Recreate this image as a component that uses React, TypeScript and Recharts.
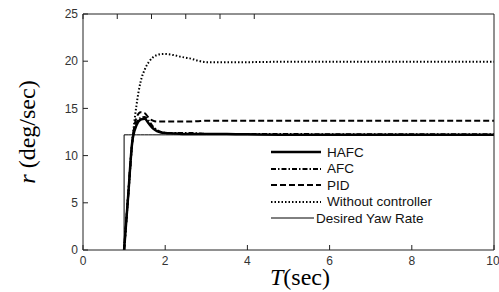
import { LineChart, Line, XAxis, YAxis, Legend, Label } from 'recharts'

// time axis (sec) and yaw rate responses (deg/sec)
const time = [0, 1.0, 1.1, 1.2, 1.3, 1.4, 1.5, 1.6, 1.7, 1.8, 1.9, 2.0, 2.2, 2.4, 2.6, 2.8, 3.0, 3.5, 4, 5, 6, 7, 8, 9, 10]
const hafc = [null, 0, 5.8, 11.5, 13.2, 13.8, 13.9, 13.4, 12.9, 12.6, 12.45, 12.4, 12.35, 12.3, 12.3, 12.3, 12.3, 12.3, 12.25, 12.2, 12.2, 12.2, 12.2, 12.2, 12.2]
const afc = [null, 0, 5.8, 11.5, 13.4, 14.0, 14.1, 13.7, 13.1, 12.7, 12.5, 12.4, 12.4, 12.4, 12.4, 12.35, 12.3, 12.3, 12.3, 12.3, 12.25, 12.25, 12.25, 12.25, 12.25]
const pid = [null, 0, 5.8, 11.5, 14.0, 14.6, 14.5, 14.0, 13.7, 13.6, 13.6, 13.6, 13.6, 13.6, 13.6, 13.65, 13.7, 13.7, 13.7, 13.7, 13.7, 13.7, 13.7, 13.7, 13.7]
const noController = [null, 0, 5.8, 11.5, 15.3, 17.8, 19.1, 19.9, 20.4, 20.65, 20.75, 20.76, 20.65, 20.45, 20.3, 20.05, 19.9, 19.9, 19.9, 19.95, 19.95, 19.95, 19.95, 19.95, 19.95]
const desired = [null, 0, 12.2, 12.2, 12.2, 12.2, 12.2, 12.2, 12.2, 12.2, 12.2, 12.2, 12.2, 12.2, 12.2, 12.2, 12.2, 12.2, 12.2, 12.2, 12.2, 12.2, 12.2, 12.2, 12.2]

const xTicks = [0, 2, 4, 6, 8, 10]
const yTicks = [0, 5, 10, 15, 20, 25]

const data = time.map((t, i) => ({
  t,
  hafc: hafc[i],
  afc: afc[i],
  pid: pid[i],
  noController: noController[i],
  desired: desired[i],
}))

const series = [
  { key: 'hafc', name: 'HAFC', width: 2.5, dash: undefined as string | undefined, len: 50, gap: 6 },
  { key: 'afc', name: 'AFC', width: 2, dash: '5 2 1.5 2', len: 50, gap: 6 },
  { key: 'pid', name: 'PID', width: 2, dash: '6 3', len: 50, gap: 6 },
  { key: 'noController', name: 'Without controller', width: 2, dash: '1.5 2', len: 50, gap: 6 },
  { key: 'desired', name: 'Desired Yaw Rate', width: 1, dash: undefined as string | undefined, len: 43, gap: 2 },
]

const tickStyle = { fontFamily: 'Liberation Sans, Arial, sans-serif', fontSize: 12, fill: '#333' }
const axisStroke = '#222'

function LegendBox() {
  return (
    <div style={{ fontFamily: 'Liberation Sans, Arial, sans-serif', fontSize: 13.5, color: '#111' }}>
      {series.map((s) => (
        <div key={s.key} style={{ display: 'flex', alignItems: 'center', height: 16.5 }}>
          <svg width={s.len} height={8} style={{ marginRight: s.gap }}>
            <line x1={0} y1={4} x2={s.len} y2={4} stroke="#000" strokeWidth={s.width} strokeDasharray={s.dash} />
          </svg>
          <span>{s.name}</span>
        </div>
      ))}
    </div>
  )
}

export default function App() {
  return (
    <div style={{ position: 'absolute', left: 0, top: 0, background: '#fff' }}>
      <LineChart width={499} height={292} data={data} margin={{ top: 13, right: 4, bottom: 0, left: 0 }}>
        <XAxis
          dataKey="t"
          type="number"
          domain={[0, 10]}
          ticks={xTicks}
          height={42}
          tickSize={-5}
          tickMargin={11}
          tick={tickStyle}
          stroke={axisStroke}
          tickLine={{ stroke: axisStroke }}
        >
          <Label
            content={() => (
              <text x={300} y={285} textAnchor="middle" fontFamily="Liberation Serif, serif" fontSize={24} fill="#000">
                <tspan fontStyle="italic">T</tspan>
                <tspan>(sec)</tspan>
              </text>
            )}
          />
        </XAxis>
        <XAxis
          xAxisId="top"
          orientation="top"
          type="number"
          domain={[0, 10]}
          ticks={xTicks}
          height={1}
          tickSize={-5}
          tickFormatter={() => ''}
          stroke={axisStroke}
          tickLine={{ stroke: axisStroke }}
        />
        <YAxis
          type="number"
          domain={[0, 25]}
          ticks={yTicks}
          width={83}
          tickSize={-5}
          tickMargin={10}
          tick={tickStyle}
          stroke={axisStroke}
          tickLine={{ stroke: axisStroke }}
        >
          <Label
            content={() => (
              <text
                transform="translate(35,132) rotate(-90)"
                textAnchor="middle"
                fontFamily="Liberation Serif, serif"
                fontSize={24}
                fill="#000"
              >
                <tspan fontStyle="italic">r</tspan>
                <tspan> (deg/sec)</tspan>
              </text>
            )}
          />
        </YAxis>
        <YAxis
          yAxisId="right"
          orientation="right"
          type="number"
          domain={[0, 25]}
          ticks={yTicks}
          width={1}
          tickSize={-5}
          tickFormatter={() => ''}
          stroke={axisStroke}
          tickLine={{ stroke: axisStroke }}
        />
        <Legend
          layout="vertical"
          align="center"
          verticalAlign="middle"
          wrapperStyle={{ left: 271, top: 144, width: 'auto' }}
          content={() => <LegendBox />}
        />
        {series.map((s) => (
          <Line
            key={s.key}
            dataKey={s.key}
            name={s.name}
            type={s.key === 'desired' ? 'stepBefore' : 'monotone'}
            stroke="#000"
            strokeWidth={s.width}
            strokeDasharray={s.dash}
            dot={false}
            activeDot={false}
            isAnimationActive={false}
          />
        ))}
      </LineChart>
    </div>
  )
}
